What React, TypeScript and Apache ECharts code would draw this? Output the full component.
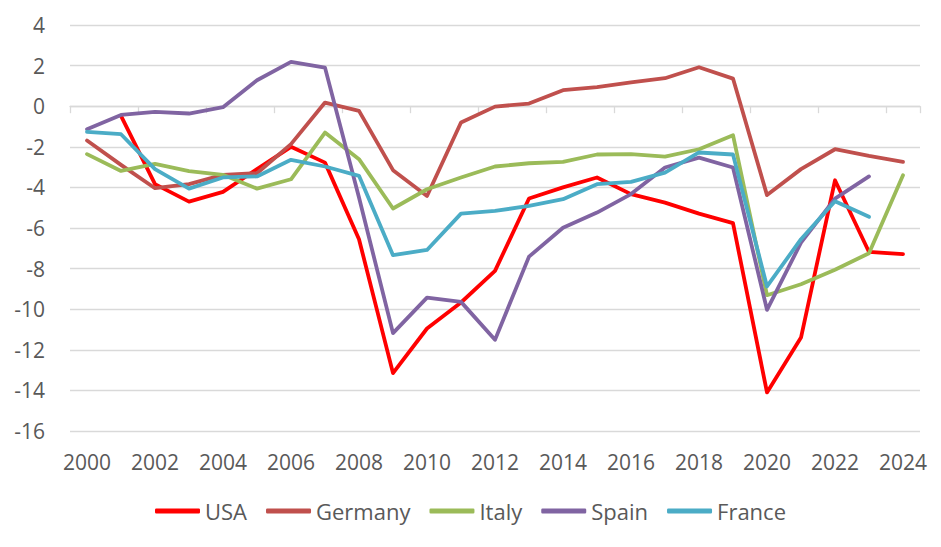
import React, { useEffect, useRef } from "react";
import * as echarts from "echarts";

// Budget balance, % of GDP
const years = [
  "2000", "2001", "2002", "2003", "2004", "2005", "2006", "2007", "2008",
  "2009", "2010", "2011", "2012", "2013", "2014", "2015", "2016", "2017",
  "2018", "2019", "2020", "2021", "2022", "2023", "2024",
];

const usa = [
  null, -0.48, -3.84, -4.7, -4.22, -3.1, -2.0, -2.78, -6.55, -13.15, -10.95,
  -9.67, -8.11, -4.55, -4.0, -3.51, -4.33, -4.75, -5.29, -5.76, -14.1, -11.4,
  -3.65, -7.18, -7.29,
];
const germany = [
  -1.69, -2.89, -4.04, -3.84, -3.38, -3.3, -1.87, 0.18, -0.23, -3.15, -4.42,
  -0.8, -0.02, 0.13, 0.79, 0.94, 1.17, 1.38, 1.92, 1.36, -4.38, -3.1, -2.12,
  -2.45, -2.74,
];
const italy = [
  -2.36, -3.19, -2.84, -3.2, -3.38, -4.06, -3.6, -1.3, -2.61, -5.04, -4.09,
  -3.51, -2.97, -2.81, -2.74, -2.38, -2.36, -2.48, -2.12, -1.43, -9.31, -8.77,
  -8.06, -7.24, -3.4,
];
const spain = [
  -1.13, -0.43, -0.28, -0.36, -0.05, 1.28, 2.18, 1.9, -4.5, -11.18, -9.43,
  -9.64, -11.51, -7.41, -5.99, -5.24, -4.33, -3.02, -2.53, -3.02, -10.03,
  -6.72, -4.55, -3.46, null,
];
const france = [
  -1.26, -1.38, -3.1, -4.06, -3.51, -3.46, -2.64, -2.97, -3.43, -7.34, -7.08,
  -5.29, -5.16, -4.91, -4.58, -3.84, -3.73, -3.27, -2.28, -2.38, -8.88, -6.55,
  -4.68, -5.45, null,
];

const seriesList = [
  { name: "USA", data: usa, color: "#FF0000" },
  { name: "Germany", data: germany, color: "#C0504D" },
  { name: "Italy", data: italy, color: "#9BBB59" },
  { name: "Spain", data: spain, color: "#8064A2" },
  { name: "France", data: france, color: "#4BACC6" },
];

const FONT = "'Open Sans', sans-serif";
const TEXT = "#595959";
const GRID = "#D9D9D9";

export default function App() {
  const ref = useRef<HTMLDivElement>(null);

  useEffect(() => {
    document.body.style.margin = "0";
    if (!ref.current) return;
    const chart = echarts.init(ref.current, null, { renderer: "svg" });
    chart.setOption({
      animation: false,
      backgroundColor: "#ffffff",
      grid: { left: 70, right: 21, top: 25, bottom: 116, containLabel: false },
      legend: {
        left: "center",
        top: 495,
        icon: "roundRect",
        itemWidth: 45,
        itemHeight: 5,
        itemGap: 19,
        textStyle: { fontFamily: FONT, fontSize: 22, color: TEXT },
        data: seriesList.map((s) => s.name),
      },
      xAxis: [
        {
          type: "category",
          data: years,
          position: "bottom",
          boundaryGap: true,
          axisLine: { show: false, onZero: false },
          axisTick: { show: false },
          axisLabel: {
            interval: 1,
            margin: 20,
            fontFamily: FONT,
            fontSize: 21,
            color: TEXT,
          },
          splitLine: { show: false },
        },
        {
          type: "category",
          data: years,
          position: "top",
          boundaryGap: true,
          axisLine: { show: true, onZero: true, lineStyle: { color: GRID, width: 1.3 } },
          axisTick: {
            show: true,
            interval: 1,
            inside: true,
            length: 7,
            alignWithLabel: false,
            lineStyle: { color: GRID, width: 1.3 },
          },
          axisLabel: { show: false },
          splitLine: { show: false },
        },
      ],
      yAxis: {
        type: "value",
        min: -16,
        max: 4,
        interval: 2,
        axisLine: { show: false },
        axisTick: { show: false },
        axisLabel: { margin: 25, fontFamily: FONT, fontSize: 21, color: TEXT },
        splitLine: { lineStyle: { color: GRID, width: 1.3 } },
      },
      series: seriesList.map((s) => ({
        name: s.name,
        type: "line",
        xAxisIndex: 0,
        data: s.data,
        symbol: "none",
        connectNulls: false,
        itemStyle: { color: s.color },
        lineStyle: { color: s.color, width: 3.8, cap: "round", join: "round" },
      })),
    });
    return () => chart.dispose();
  }, []);

  return <div ref={ref} style={{ width: 941, height: 547 }} />;
}
